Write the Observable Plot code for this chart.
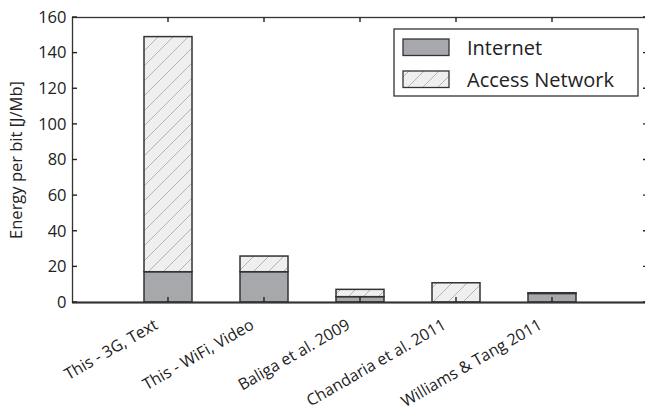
<!DOCTYPE html>
<html><head><meta charset="utf-8">
<script src="https://cdn.jsdelivr.net/npm/d3@7"></script>
<script src="https://cdn.jsdelivr.net/npm/@observablehq/plot@0.6"></script>
<style>
html,body{margin:0;padding:0;background:#fff;overflow:hidden}
#chart{position:relative;width:645px;height:414px;overflow:hidden}
</style></head><body><div id="chart"></div>
<script>
const categories = ["This - 3G, Text", "This - WiFi, Video", "Baliga et al. 2009", "Chandaria et al. 2011", "Williams & Tang 2011"];
const internet = [17, 17, 3.0, 0, 4.8];
const access = [132, 8.8, 4.1, 10.8, 0.4];
const yTicks = [0, 20, 40, 60, 80, 100, 120, 140, 160];
const seriesNames = ["Internet", "Access Network"];
const seriesFills = ["#a7a8ab", "url(#hatch)"];

const rows = categories.map((c, i) => ({cat: c, internet: internet[i], access: access[i], total: internet[i] + access[i]}));

function makePattern(sel) {
  const p = sel.append("pattern").attr("id", "hatch").attr("patternUnits", "userSpaceOnUse")
    .attr("width", 15).attr("height", 15);
  p.append("rect").attr("width", 15).attr("height", 15).attr("fill", "#efefef");
  p.append("path").attr("d", "M-1,16 L16,-1 M-4,4 L4,-4 M11,19 L19,11")
    .attr("stroke", "#a3a3a3").attr("stroke-width", 0.8).attr("fill", "none");
}
const defs = () => {
  const d = d3.create("svg:defs");
  makePattern(d);
  return d.node();
};

const H = 414, mT = 17, mB = 112, mL = 72, W = 645, mR = -3;
const tk = 5;

const chart = Plot.plot({
  width: W, height: H, marginTop: mT, marginBottom: mB, marginLeft: mL, marginRight: mR,
  style: {fontFamily: "'Open Sans', sans-serif", fontSize: "16.5px", color: "#222", background: "#fff", overflow: "visible"},
  x: {type: "band", domain: categories, paddingInner: 0.5, paddingOuter: 0.75},
  y: {domain: [0, 160]},
  marks: [
    defs,
    Plot.barY(rows, {x: "cat", y1: 0, y2: "internet", fill: seriesFills[0], stroke: "#333", strokeWidth: 1.5}),
    Plot.barY(rows, {x: "cat", y1: "internet", y2: "total", fill: seriesFills[1], stroke: "#333", strokeWidth: 1.5}),
    Plot.frame({stroke: "#333", strokeWidth: 1.3}),
    Plot.ruleY([0], {stroke: "#333", strokeWidth: 2}),
    Plot.axisY({ticks: yTicks, tickSize: 0, tickPadding: 6, label: "Energy per bit [J/Mb]", labelAnchor: "center", labelArrow: "none", labelOffset: 62, fontSize: 16.5}),
    Plot.axisX({tickRotate: -30, tickSize: 0, tickPadding: 21, dx: -12, label: null, fontSize: 16})
  ]
});

// inward tick marks, positioned with the plot's own scales
const sx = chart.scale("x"), sy = chart.scale("y");
const svg = d3.select(chart);
const half = sx.bandwidth / 2;
const yTop = sy.apply(160), yBot = sy.apply(0);
const xL = mL, xR = W - mR;
const tg = svg.append("g").attr("stroke", "#222").attr("stroke-width", 1.4);
categories.forEach(c => {
  const x = sx.apply(c) + half;
  tg.append("line").attr("x1", x).attr("x2", x).attr("y1", yBot).attr("y2", yBot - tk);
  tg.append("line").attr("x1", x).attr("x2", x).attr("y1", yTop).attr("y2", yTop + tk);
});
yTicks.forEach(v => {
  const y = sy.apply(v);
  tg.append("line").attr("x1", xL).attr("x2", xL + tk).attr("y1", y).attr("y2", y);
  tg.append("line").attr("x1", xR).attr("x2", xR - tk).attr("y1", y).attr("y2", y);
});

const lg = svg.append("g").attr("text-anchor", "start");
lg.append("rect").attr("x", 394).attr("y", 29).attr("width", 244).attr("height", 67)
  .attr("fill", "#fff").attr("stroke", "#333").attr("stroke-width", 1.3);
seriesNames.forEach((name, i) => {
  const y = 39 + i * 32;
  lg.append("rect").attr("x", 403).attr("y", y).attr("width", 46).attr("height", 16.5)
    .attr("fill", seriesFills[i]).attr("stroke", "#333").attr("stroke-width", 1.3);
  lg.append("text").attr("x", 467).attr("y", y + 16).text(name)
    .attr("text-anchor", "start").attr("font-size", 20).attr("fill", "#222")
    .attr("font-family", "'Open Sans', sans-serif");
});

document.getElementById("chart").appendChild(chart);
</script>
</body></html>
